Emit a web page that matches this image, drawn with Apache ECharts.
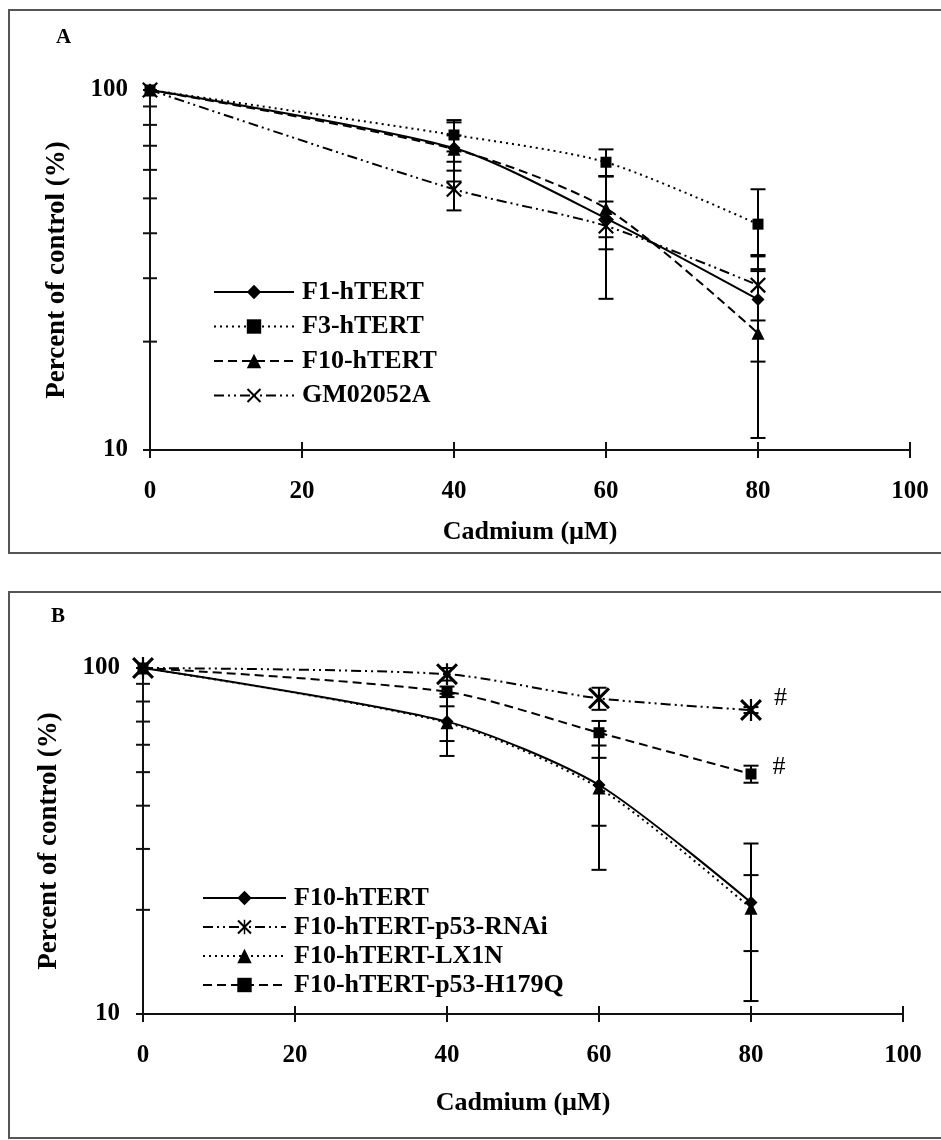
<!DOCTYPE html>
<html><head><meta charset="utf-8">
<script src="https://cdn.jsdelivr.net/npm/echarts@6/dist/echarts.min.js"></script>
<style>html,body{margin:0;padding:0;background:#fff}#c{width:941px;height:1140px}</style>
</head><body><div id="c"></div>
<script>
// ---------- data ----------
const cadmium = [0, 40, 60, 80];
const xTicks = [0, 20, 40, 60, 80, 100];
const yTicks = [10, 20, 30, 40, 50, 60, 70, 80, 90, 100];

// Panel A
const aNames = ['F1-hTERT', 'F3-hTERT', 'F10-hTERT', 'GM02052A'];
const aF1 = [100, 69, 44, 26.2];
const aF1Err = [0, 5.8, 5.0, 8.6];
const aF3 = [100, 75, 63, 42.4];
const aF3Err = [0, 7.5, 5.4, 10.6];
const aF10 = [100, 68.5, 46.9, 21.1];
const aF10Err = [0, 12.8, 10.8, 10.3];
const aGM = [100, 53, 41.9, 28.7];
const aGMErr = [0, 6.7, 15.6, 5.8];

// Panel B
const bNames = ['F10-hTERT', 'F10-hTERT-p53-RNAi', 'F10-hTERT-LX1N', 'F10-hTERT-p53-H179Q'];
const bF10 = [100, 70, 45.9, 21.0];
const bF10Err = [0, 14.3, 19.8, 10.1];
const bRNAi = [100, 96, 81.7, 75.6];
const bRNAiErr = [0, 4, 6, 1.5];
const bLX1N = [100, 69.5, 45, 20.2];
const bLX1NErr = [0, 8, 10, 5];
const bH179Q = [100, 85.4, 65, 49.4];
const bH179QErr = [0, 3, 5.3, 2.8];
const sigMark = '#';

// ---------- styling ----------
const FONT = 'Liberation Serif';
const X_PATH = 'path://M0,1 L1,0 L10,9 L9,10 Z M9,0 L10,1 L1,10 L0,9 Z';
const STAR_PATH = 'path://M0,1 L1,0 L10,9 L9,10 Z M9,0 L10,1 L1,10 L0,9 Z M4.5,0 L5.5,0 L5.5,10 L4.5,10 Z';
const SOLID = 'solid', DOT = [2, 4], DASH = [9, 5], DASHDOTDOT = [10, 4, 2, 4, 2, 4];

function pts(vals) { return cadmium.map((x, i) => [x, vals[i]]); }

function lineSeries(name, vals, idx, symbol, size, dash, extra) {
  return Object.assign({
    type: 'line', name: name, xAxisIndex: idx, yAxisIndex: idx,
    data: pts(vals), smooth: 0.25, symbol: symbol, symbolSize: size,
    showAllSymbol: true,
    lineStyle: { color: '#000', width: 2, type: dash },
    itemStyle: { color: '#000' },
    z: 4, emphasis: { disabled: true }
  }, extra || {});
}

function errSeries(vals, errs, idx) {
  return {
    type: 'custom', xAxisIndex: idx, yAxisIndex: idx, clip: false, z: 3, silent: true,
    data: cadmium.map((x, i) => [x, vals[i], errs[i]]).filter(d => d[2] > 0),
    renderItem: function (params, api) {
      const x = api.value(0), v = api.value(1), e = api.value(2);
      const top = api.coord([x, v + e]);
      const bot = api.coord([x, v - e]);
      const hw = 7.5;
      const st = { stroke: '#000', lineWidth: 2 };
      return { type: 'group', children: [
        { type: 'line', shape: { x1: top[0], y1: top[1], x2: bot[0], y2: bot[1] }, style: st },
        { type: 'line', shape: { x1: top[0] - hw, y1: top[1], x2: top[0] + hw, y2: top[1] }, style: st },
        { type: 'line', shape: { x1: bot[0] - hw, y1: bot[1], x2: bot[0] + hw, y2: bot[1] }, style: st }
      ]};
    }
  };
}

function tickSeries(idx) {
  const data = xTicks.map(v => [v, 10, 0]).concat(yTicks.map(v => [0, v, 1]));
  return {
    type: 'custom', xAxisIndex: idx, yAxisIndex: idx, clip: false, z: 2, silent: true,
    data: data,
    renderItem: function (params, api) {
      const p = api.coord([api.value(0), api.value(1)]);
      const st = { stroke: '#111', lineWidth: 2 };
      if (api.value(2) === 0) {
        return { type: 'line', shape: { x1: p[0], y1: p[1] - 8, x2: p[0], y2: p[1] + 8 }, style: st };
      }
      return { type: 'line', shape: { x1: p[0] - 7, y1: p[1], x2: p[0] + 7, y2: p[1] }, style: st };
    }
  };
}

const axisLabelStyle = { color: '#000', fontFamily: FONT, fontWeight: 'bold', fontSize: 25 };
const nameStyle = { color: '#000', fontFamily: FONT, fontWeight: 'bold', fontSize: 26 };

function xAxis(idx, nameGap) {
  return {
    type: 'value', gridIndex: idx, min: 0, max: 100, interval: 20,
    name: 'Cadmium (µM)', nameLocation: 'middle', nameGap: nameGap,
    nameTextStyle: nameStyle,
    axisLine: { show: true, lineStyle: { color: '#111', width: 2 } },
    axisTick: { show: false }, splitLine: { show: false },
    axisLabel: Object.assign({ margin: 29 }, axisLabelStyle)
  };
}
function yAxis(idx, nameGap, margin) {
  return {
    type: 'log', logBase: 10, gridIndex: idx, min: 10, max: 100,
    name: 'Percent of control (%)', nameLocation: 'middle', nameGap: nameGap,
    nameTextStyle: Object.assign({}, nameStyle, { fontSize: 27 }),
    axisLine: { show: true, lineStyle: { color: '#111', width: 2 } },
    axisTick: { show: false }, splitLine: { show: false }, minorTick: { show: false },
    axisLabel: Object.assign({ margin: margin }, axisLabelStyle)
  };
}

const legendText = { color: '#000', fontFamily: FONT, fontWeight: 'bold', fontSize: 26, lineHeight: 26, padding: [0, 0, 0, 3] };

const option = {
  animation: false,
  backgroundColor: '#fff',
  grid: [
    { left: 150, top: 90, width: 760, height: 360 },
    { left: 143, top: 668, width: 760, height: 346 }
  ],
  xAxis: [xAxis(0, 69), xAxis(1, 76)],
  yAxis: [yAxis(0, 79, 22), yAxis(1, 80, 23)],
  legend: [
    { data: aNames, orient: 'vertical', left: 208, top: 274, itemWidth: 80, itemHeight: 18, itemGap: 8.5,
      textStyle: legendText, selectedMode: false },
    { data: bNames.map((n, i) => i === 0 ? n + ' ' : n), orient: 'vertical', left: 197, top: 880, itemWidth: 83, itemHeight: 18, itemGap: 3,
      textStyle: legendText, selectedMode: false, formatter: n => n.trim() }
  ],
  graphic: [
    { type: 'rect', shape: { x: 9, y: 10, width: 945, height: 543 }, style: { fill: 'none', stroke: '#555', lineWidth: 2 } },
    { type: 'rect', shape: { x: 9, y: 592, width: 945, height: 546 }, style: { fill: 'none', stroke: '#555', lineWidth: 2 } },
    { type: 'text', left: 56, top: 27, style: { text: 'A', font: 'bold 21px "Liberation Serif"', fill: '#000' } },
    { type: 'text', left: 51, top: 606, style: { text: 'B', font: 'bold 21px "Liberation Serif"', fill: '#000' } }
  ],
  series: [
    tickSeries(0), tickSeries(1),
    errSeries(aF1, aF1Err, 0), errSeries(aF3, aF3Err, 0), errSeries(aF10, aF10Err, 0), errSeries(aGM, aGMErr, 0),
    lineSeries(aNames[0], aF1, 0, 'diamond', 13, SOLID),
    lineSeries(aNames[1], aF3, 0, 'rect', 11, DOT),
    lineSeries(aNames[2], aF10, 0, 'triangle', 13, DASH),
    lineSeries(aNames[3], aGM, 0, X_PATH, 16, DASHDOTDOT),

    errSeries(bF10, bF10Err, 1), errSeries(bRNAi, bRNAiErr, 1), errSeries(bLX1N, bLX1NErr, 1), errSeries(bH179Q, bH179QErr, 1),
    lineSeries(bNames[0] + ' ', bF10, 1, 'diamond', 13, SOLID),
    lineSeries(bNames[1], bRNAi, 1, STAR_PATH, 22, DASHDOTDOT, {
      data: pts(bRNAi).map((p, i) => i === 3 ? { value: p, label: { show: true, formatter: sigMark, position: 'right', distance: 12, offset: [0, -12], color: '#000', fontFamily: FONT, fontSize: 26 } } : p)
    }),
    lineSeries(bNames[2], bLX1N, 1, 'triangle', 13, DOT),
    lineSeries(bNames[3], bH179Q, 1, 'rect', 11, DASH, {
      data: pts(bH179Q).map((p, i) => i === 3 ? { value: p, label: { show: true, formatter: sigMark, position: 'right', distance: 16, offset: [0, -7], color: '#000', fontFamily: FONT, fontSize: 26 } } : p)
    })
  ]
};

const chart = echarts.init(document.getElementById('c'), null, { renderer: 'canvas' });
chart.setOption(option);
</script>
</body></html>
